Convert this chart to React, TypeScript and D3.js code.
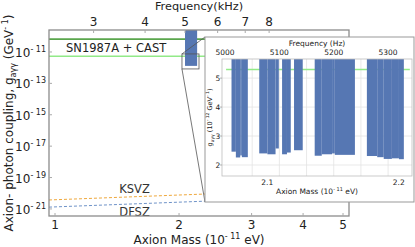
import React from "react";
import * as d3 from "d3";

// Hz per 1e-11 eV of axion mass
const hzPerMass = 2417.99;

const massTicks = [1, 2, 3, 4, 5];
const freqTicksKHz = [3, 4, 5, 6, 7, 8];
const couplingExps = [-11, -13, -15, -17, -19, -21];

// astrophysical limits (GeV^-1)
const limitNames = ["CAST", "SN1987A"];
const limitValues = [6.6e-11, 5.3e-12];
const limitColors = ["#5aa64c", "#92ea88"];

// QCD axion model bands: g = coef * mass
const modelNames = ["KSVZ", "DFSZ"];
const modelCoef = [3.85e-21, 1.35e-21];
const modelColors = ["#efa83c", "#6f93c8"];

// excluded band in the main panel
const bandHz = [5000, 5350];
const bandFloor = 1.3e-12;

// zoomed region marked on the main panel
const zoomMass = [2.033, 2.236];
const zoomCoupling = [8.3e-13, 7.5e-12];

// inset: excluded steps (Hz) and limit (1e-12 GeV^-1)
const stepStartHz = [5012, 5020, 5028, 5031, 5063, 5078, 5093, 5105, 5114, 5127, 5165, 5178, 5197, 5202, 5261, 5280, 5292, 5307, 5320];
const stepEndHz = [5020, 5028, 5031, 5042, 5078, 5093, 5099, 5114, 5121, 5143, 5178, 5197, 5202, 5239, 5280, 5292, 5307, 5320, 5329];
const stepLimit = [2.46, 2.26, 2.33, 2.27, 2.4, 2.37, 2.57, 2.37, 2.43, 2.51, 2.32, 2.37, 2.4, 2.35, 2.31, 2.27, 2.21, 2.23, 2.2];
const insetFreqTicks = [5000, 5100, 5200, 5300];
const insetGridHz = [5050, 5100, 5150, 5200, 5250, 5300];
const insetMassTicks = [2.1, 2.2];
const insetCouplingTicks = [2, 3, 4, 5];
const insetLimit = 5.3;

const barColor = "#5677b3";
const font = "DejaVu Sans, sans-serif";

const App: React.FC = () => {
    const W = 415, H = 247;
    const plot = { left: 49, right: 349, top: 30, bottom: 216 };
    const x = d3.scaleLog().domain([0.967, 5.17]).range([plot.left, plot.right]);
    const y = d3.scaleLog().domain([Math.pow(10, -21.45), Math.pow(10, -9.6)]).range([plot.bottom, plot.top]);

    const box = { x: 205, y: 37, w: 209, h: 165 };
    const ip = { left: 222, right: 412, top: 59, bottom: 176 };
    const fx = d3.scaleLinear().domain([4994.5, 5344]).range([ip.left, ip.right]);
    const iy = d3.scaleLinear().domain([1.62, 5.66]).range([ip.bottom, ip.top]);

    const massDomain = x.domain();
    const modelLine = (coef: number) =>
        d3.line<number>().x((m) => x(m)).y((m) => y(coef * m))(massDomain) || "";

    const labelMass = 1.56;

    return (
        <svg width={W} height={H} style={{ position: "absolute", left: 0, top: 0 }} fontFamily={font}>
            <rect width={W} height={H} fill="#fff" />

            {/* limits */}
            {limitValues.map((v, i) => (
                <line key={limitNames[i]} x1={plot.left} x2={plot.right} y1={y(v)} y2={y(v)}
                      stroke={limitColors[i]} strokeWidth={1.6} />
            ))}
            <text x={66} y={52} fontSize={11.5} fill="#222">SN1987A + CAST</text>

            {/* models */}
            {modelNames.map((n, i) => (
                <path key={n} d={modelLine(modelCoef[i])} fill="none" stroke={modelColors[i]}
                      strokeWidth={1} strokeDasharray="3,2" />
            ))}
            <text x={x(labelMass)} y={y(modelCoef[0] * labelMass) - 4} textAnchor="middle" fontSize={11.5} fill="#333">KSVZ</text>
            <text x={x(labelMass)} y={y(modelCoef[1] * labelMass) + 12} textAnchor="middle" fontSize={11.5} fill="#333">DFSZ</text>

            {/* excluded band */}
            <rect x={x(bandHz[0] / hzPerMass)} y={plot.top}
                  width={x(bandHz[1] / hzPerMass) - x(bandHz[0] / hzPerMass)}
                  height={y(bandFloor) - plot.top} fill={barColor} />

            {/* frame */}
            <rect x={plot.left} y={plot.top} width={plot.right - plot.left} height={plot.bottom - plot.top}
                  fill="none" stroke="#8c8c8c" strokeWidth={1.3} />

            {/* bottom axis */}
            {massTicks.map((m) => (
                <g key={m}>
                    <line x1={x(m)} x2={x(m)} y1={plot.bottom} y2={plot.bottom - 3} stroke="#aaa" />
                    <text x={x(m)} y={229} textAnchor="middle" fontSize={12} fill="#222">{m}</text>
                </g>
            ))}
            <text x={(plot.left + plot.right) / 2} y={244} textAnchor="middle" fontSize={12} fill="#222">
                Axion Mass (10<tspan fontSize={8} dy={-5}>- 11</tspan><tspan dy={5}> eV)</tspan>
            </text>

            {/* top axis */}
            {freqTicksKHz.map((f) => (
                <g key={f}>
                    <line x1={x(f * 1000 / hzPerMass)} x2={x(f * 1000 / hzPerMass)} y1={plot.top} y2={plot.top + 3} stroke="#aaa" />
                    <text x={x(f * 1000 / hzPerMass)} y={26} textAnchor="middle" fontSize={12} fill="#222">{f}</text>
                </g>
            ))}
            <text x={(plot.left + plot.right) / 2} y={10} textAnchor="middle" fontSize={11.3} fill="#222">Frequency(kHz)</text>

            {/* left axis */}
            {couplingExps.map((e) => (
                <g key={e}>
                    <line x1={plot.left} x2={plot.left + 3} y1={y(Math.pow(10, e))} y2={y(Math.pow(10, e))} stroke="#aaa" />
                    <text x={46} y={y(Math.pow(10, e)) + 5} textAnchor="end" fontSize={12} fill="#222">
                        10<tspan fontSize={8} dy={-5}>{"- " + Math.abs(e)}</tspan>
                    </text>
                </g>
            ))}
            <text transform={`translate(13,${(plot.top + plot.bottom) / 2}) rotate(-90)`} textAnchor="middle" fontSize={12} fill="#222">
                Axion- photon coupling, g<tspan fontSize={8} dy={3}>aγγ</tspan><tspan dy={-3}> (GeV</tspan>
                <tspan fontSize={8} dy={-5}>- 1</tspan><tspan dy={5}>)</tspan>
            </text>

            {/* zoom marker */}
            <rect x={x(zoomMass[0])} y={y(zoomCoupling[1])} width={x(zoomMass[1]) - x(zoomMass[0])}
                  height={y(zoomCoupling[0]) - y(zoomCoupling[1])} fill="none" stroke="#555" strokeWidth={0.8} />
            <line x1={x(zoomMass[0])} y1={y(zoomCoupling[1])} x2={box.x} y2={box.y} stroke="#555" strokeWidth={0.8} />
            <line x1={x(zoomMass[0])} y1={y(zoomCoupling[0])} x2={box.x} y2={box.y + box.h} stroke="#555" strokeWidth={0.8} />

            {/* inset */}
            <rect x={box.x} y={box.y} width={box.w} height={box.h} fill="#fff" stroke="#999" strokeWidth={1} />
            {insetGridHz.map((f) => (
                <line key={f} x1={fx(f)} x2={fx(f)} y1={ip.top} y2={ip.bottom} stroke="#e3e3e3" strokeWidth={0.8} />
            ))}
            {insetCouplingTicks.map((v) => (
                <line key={v} x1={ip.left} x2={ip.right} y1={iy(v)} y2={iy(v)} stroke="#e3e3e3" strokeWidth={0.8} />
            ))}
            <line x1={fx(5002)} x2={fx(5340)} y1={iy(insetLimit)} y2={iy(insetLimit)} stroke="#92ea88" strokeWidth={1.4} />
            {stepLimit.map((v, i) => (
                <rect key={i} x={fx(stepStartHz[i])} y={ip.top} width={fx(stepEndHz[i]) - fx(stepStartHz[i])}
                      height={iy(v) - ip.top} fill={barColor} />
            ))}
            <rect x={ip.left} y={ip.top} width={ip.right - ip.left} height={ip.bottom - ip.top}
                  fill="none" stroke="#bdbdbd" strokeWidth={0.8} />
            {insetFreqTicks.map((f) => (
                <text key={f} x={fx(f)} y={55} textAnchor="middle" fontSize={7.5} fill="#222">{f}</text>
            ))}
            <text x={(ip.left + ip.right) / 2} y={46} textAnchor="middle" fontSize={7.5} fill="#222">Frequency (Hz)</text>
            {insetCouplingTicks.map((v) => (
                <g key={v}>
                    <line x1={ip.left - 2} x2={ip.left} y1={iy(v)} y2={iy(v)} stroke="#888" strokeWidth={0.6} />
                    <text x={218} y={iy(v) + 2.7} textAnchor="middle" fontSize={7.5} fill="#222">{v}</text>
                </g>
            ))}
            {insetMassTicks.map((m) => (
                <text key={m} x={fx(m * hzPerMass)} y={185} textAnchor="middle" fontSize={7.5} fill="#222">{m}</text>
            ))}
            <text x={(ip.left + ip.right) / 2} y={194} textAnchor="middle" fontSize={7.5} fill="#222">
                Axion Mass (10<tspan fontSize={5} dy={-3}>- 11</tspan><tspan dy={3}> eV)</tspan>
            </text>
            <text transform={`translate(212,${(ip.top + ip.bottom) / 2}) rotate(-90)`} textAnchor="middle" fontSize={6.5} fill="#222">
                g<tspan fontSize={4.5} dy={2}>aγγ</tspan><tspan dy={-2}> (10</tspan><tspan fontSize={4.5} dy={-3}>- 12</tspan>
                <tspan dy={3}> GeV</tspan><tspan fontSize={4.5} dy={-3}>- 1</tspan><tspan dy={3}>)</tspan>
            </text>
        </svg>
    );
};

export default App;
